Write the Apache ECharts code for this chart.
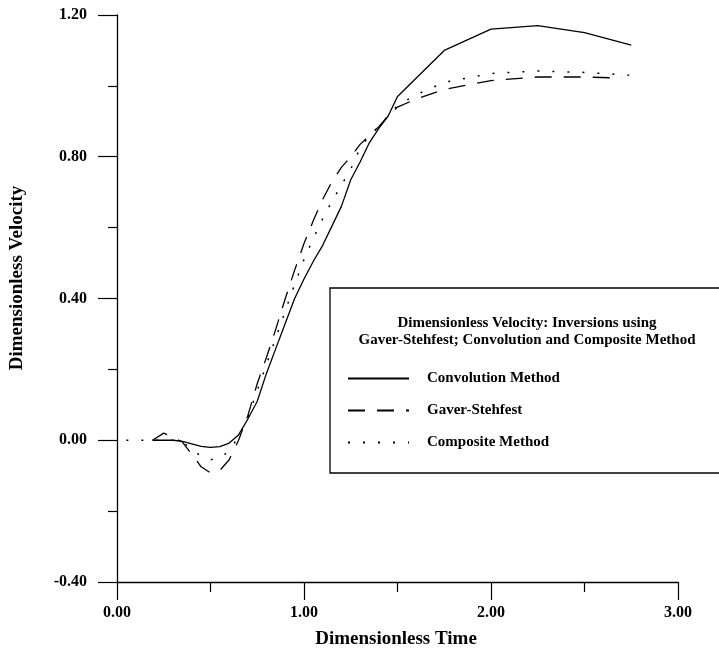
<!DOCTYPE html>
<html>
<head>
<meta charset="utf-8">
<script src="https://cdn.jsdelivr.net/npm/echarts@6/dist/echarts.min.js"></script>
<style>
  html, body { margin: 0; padding: 0; background: #ffffff; }
  #chart { width: 719px; height: 651px; }
</style>
</head>
<body>
<div id="chart"></div>
<script>
// ---- Data ----
const xTitle = 'Dimensionless Time';
const yTitle = 'Dimensionless Velocity';
const legendTitle = 'Dimensionless Velocity: Inversions using\nGaver-Stehfest; Convolution and Composite Method';
const seriesNames = ['Convolution Method', 'Gaver-Stehfest', 'Composite Method'];

const convT = [0.19, 0.25, 0.30, 0.35, 0.40, 0.45, 0.50, 0.55, 0.60, 0.65, 0.70, 0.75, 0.80, 0.85, 0.90, 0.95, 1.00, 1.05, 1.10, 1.15, 1.20, 1.25, 1.30, 1.35, 1.40, 1.45, 1.50, 1.75, 2.00, 2.25, 2.50, 2.75];
const convV = [0.000, 0.000, 0.000, -0.003, -0.010, -0.017, -0.020, -0.018, -0.008, 0.015, 0.060, 0.110, 0.190, 0.260, 0.330, 0.400, 0.455, 0.505, 0.550, 0.605, 0.660, 0.735, 0.785, 0.840, 0.880, 0.915, 0.970, 1.100, 1.160, 1.170, 1.150, 1.115];

const gavT = [0.19, 0.25, 0.30, 0.35, 0.40, 0.45, 0.50, 0.55, 0.60, 0.65, 0.70, 0.75, 0.80, 0.85, 0.90, 0.95, 1.00, 1.05, 1.10, 1.15, 1.20, 1.25, 1.30, 1.35, 1.40, 1.45, 1.50, 1.60, 1.75, 2.00, 2.25, 2.50, 2.70];
const gavV = [0.000, 0.020, 0.008, -0.005, -0.040, -0.075, -0.092, -0.085, -0.055, 0.000, 0.070, 0.160, 0.235, 0.315, 0.400, 0.480, 0.555, 0.620, 0.680, 0.730, 0.770, 0.800, 0.835, 0.860, 0.885, 0.915, 0.940, 0.963, 0.990, 1.015, 1.025, 1.025, 1.022];

const compT = [0.05, 0.10, 0.20, 0.30, 0.35, 0.40, 0.45, 0.50, 0.55, 0.60, 0.65, 0.70, 0.75, 0.80, 0.85, 0.90, 0.95, 1.00, 1.05, 1.10, 1.15, 1.20, 1.25, 1.30, 1.35, 1.40, 1.45, 1.50, 1.60, 1.75, 2.00, 2.25, 2.50, 2.75];
const compV = [0.000, 0.000, 0.000, 0.000, -0.005, -0.025, -0.045, -0.055, -0.050, -0.030, 0.010, 0.065, 0.140, 0.215, 0.290, 0.365, 0.440, 0.510, 0.570, 0.625, 0.675, 0.720, 0.765, 0.825, 0.860, 0.885, 0.915, 0.945, 0.975, 1.010, 1.035, 1.042, 1.038, 1.030];

const xMin = 0, xMax = 3, xStep = 1;
const yMin = -0.4, yMax = 1.2, yStep = 0.4;

function pairs(ts, vs) { return ts.map((t, i) => [t, vs[i]]); }

const FONT = '"Liberation Serif", "Times New Roman", serif';

const chart = echarts.init(document.getElementById('chart'), null, { renderer: 'canvas' });

const axisCommon = {
  axisLine: { show: true, onZero: false, lineStyle: { color: '#000', width: 1.3 } },
  splitLine: { show: false },
  axisLabel: { color: '#000', fontFamily: FONT, fontWeight: 'bold', fontSize: 16,
               formatter: v => v.toFixed(2) },
};

chart.setOption({
  backgroundColor: '#ffffff',
  animation: false,
  grid: { left: 117, right: 41, top: 15, bottom: 69, containLabel: false },
  xAxis: Object.assign({}, axisCommon, {
    type: 'value', min: xMin, max: xMax, interval: xStep,
    axisTick: { show: true, length: 18, lineStyle: { color: '#000', width: 1.2 } },
    minorTick: { show: true, splitNumber: 2, length: 10, lineStyle: { color: '#000', width: 1.2 } },
    minorSplitLine: { show: false },
    axisLabel: Object.assign({}, axisCommon.axisLabel, { margin: 23 })
  }),
  yAxis: Object.assign({}, axisCommon, {
    type: 'value', min: yMin, max: yMax, interval: yStep,
    axisTick: { show: true, length: 19, lineStyle: { color: '#000', width: 1.2 } },
    minorTick: { show: true, splitNumber: 2, length: 9, lineStyle: { color: '#000', width: 1.2 } },
    minorSplitLine: { show: false },
    axisLabel: Object.assign({}, axisCommon.axisLabel, { margin: 30 })
  }),
  legend: {
    orient: 'vertical', left: 347, top: 371, padding: 0,
    itemWidth: 61, itemHeight: 14, itemGap: 17,
    data: seriesNames,
    itemStyle: { opacity: 0, borderWidth: 0 },
    lineStyle: { opacity: 1 },
    textStyle: { color: '#000', fontFamily: FONT, fontWeight: 'bold', fontSize: 15, padding: [0, 0, 0, 13] }
  },
  graphic: [
    { type: 'rect', z: 1, shape: { x: 330, y: 288, width: 400, height: 185 },
      style: { fill: 'none', stroke: '#000', lineWidth: 1.3 } },
    { type: 'text', z: 2, x: 527, y: 332,
      style: { text: legendTitle, font: 'bold 15px ' + FONT, fill: '#000',
               align: 'center', verticalAlign: 'middle', lineHeight: 17 } },
    { type: 'text', z: 2, x: 17, y: 278, rotation: Math.PI / 2,
      style: { text: yTitle, font: 'bold 19px ' + FONT, fill: '#000',
               align: 'center', verticalAlign: 'middle' } },
    { type: 'text', z: 2, x: 396, y: 639,
      style: { text: xTitle, font: 'bold 19px ' + FONT, fill: '#000',
               align: 'center', verticalAlign: 'middle' } }
  ],
  series: [
    { name: seriesNames[0], type: 'line', data: pairs(convT, convV), symbol: 'none', showSymbol: false,
      lineStyle: { color: '#000', width: 1.3, type: 'solid' }, itemStyle: { color: '#000' } },
    { name: seriesNames[1], type: 'line', data: pairs(gavT, gavV), symbol: 'none', showSymbol: false,
      lineStyle: { color: '#000', width: 1.3, type: [17, 12] }, itemStyle: { color: '#000' } },
    { name: seriesNames[2], type: 'line', data: pairs(compT, compV), symbol: 'none', showSymbol: false,
      lineStyle: { color: '#000', width: 1.5, type: [2, 13] }, itemStyle: { color: '#000' } }
  ]
});
</script>
</body>
</html>
